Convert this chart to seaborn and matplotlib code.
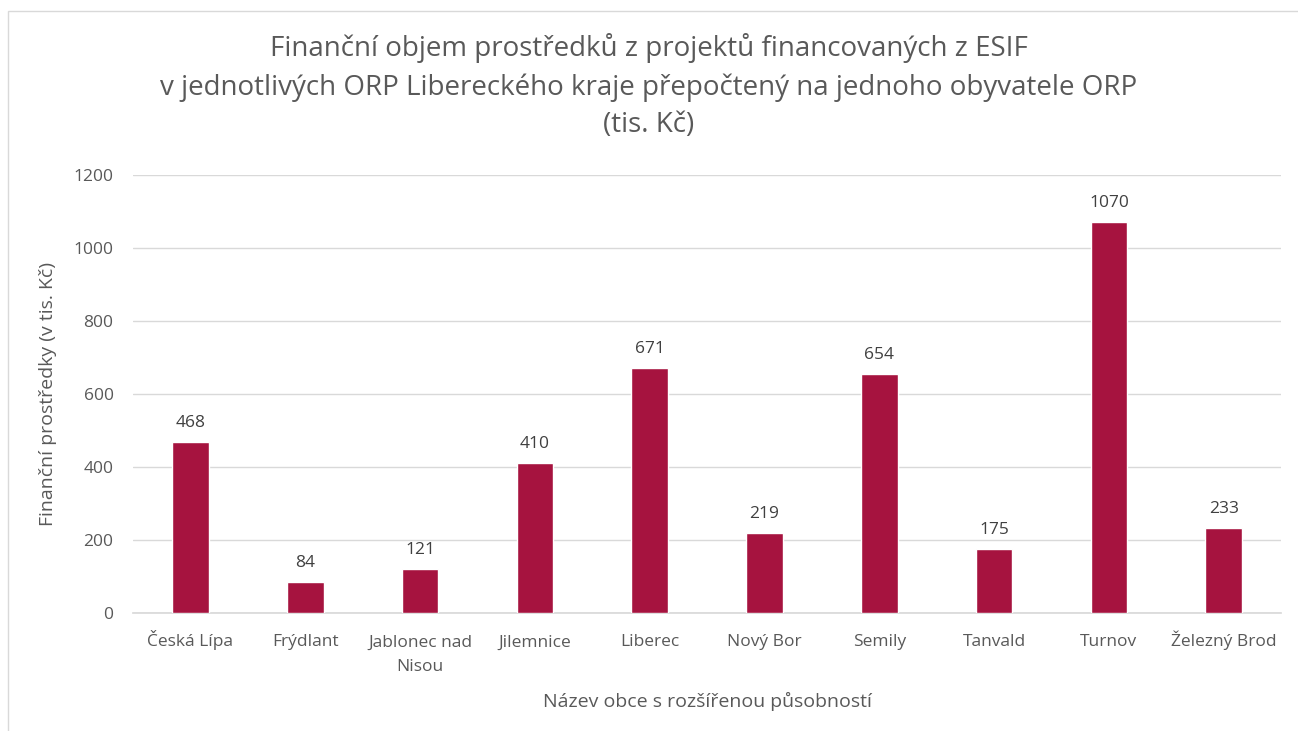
import matplotlib
matplotlib.use("Agg")
import matplotlib.pyplot as plt
import matplotlib.transforms as mtransforms
import seaborn as sns
import pandas as pd
from matplotlib.patches import Rectangle

# ---------------------------------------------------------------------------
# Data
# ---------------------------------------------------------------------------
orp = ["Česká Lípa", "Frýdlant", "Jablonec nad\nNisou", "Jilemnice", "Liberec",
       "Nový Bor", "Semily", "Tanvald", "Turnov", "Železný Brod"]
values = [468, 84, 121, 410, 671, 219, 654, 175, 1070, 233]
yticks = [0, 200, 400, 600, 800, 1000, 1200]

title = ("Finanční objem prostředků z projektů financovaných z ESIF\n"
         "v jednotlivých ORP Libereckého kraje přepočtený na jednoho obyvatele ORP\n"
         "(tis. Kč)")
xlabel = "Název obce s rozšířenou působností"
ylabel = "Finanční prostředky (v tis. Kč)"

df = pd.DataFrame({"orp": orp, "value": values})

# ---------------------------------------------------------------------------
# Plot
# ---------------------------------------------------------------------------
sns.set_theme(style="white")
plt.rcParams["font.family"] = ["Open Sans", "DejaVu Sans"]
text_color = "#595959"
bar_color = "#A6133F"

fig = plt.figure(figsize=(12.98, 7.31), dpi=100)
ax = fig.add_axes([0.1025, 0.1614, 0.8845, 0.5992])

sns.barplot(data=df, x="orp", y="value", color=bar_color, width=0.32,
            saturation=1, ax=ax, zorder=3)

for i, v in enumerate(values):
    ax.annotate(f"{v}", (i, v), xytext=(0, 8), textcoords="offset points",
                ha="center", va="bottom", fontsize=12.5, color="#404040")

ax.set_ylim(0, 1200)
ax.set_yticks(yticks)
ax.set_xlim(-0.5, len(orp) - 0.5)
ax.yaxis.grid(True, color="#D9D9D9", linewidth=1, zorder=0)
for side in ["top", "right", "left"]:
    ax.spines[side].set_visible(False)
ax.spines["bottom"].set_color("#D9D9D9")
ax.tick_params(axis="both", length=0, labelsize=12.5, labelcolor=text_color)
ax.tick_params(axis="x", pad=24)
ax.tick_params(axis="y", pad=14)

# align on the baseline so accented capitals do not push labels down;
# baseline means the last line, so shift multi-line labels down
line_step = 18  # points between lines
for lbl in ax.get_xticklabels():
    lbl.set_linespacing(1.7)
    lbl.set_va("baseline")
    n_extra = lbl.get_text().count("\n")
    if n_extra:
        shift = mtransforms.ScaledTranslation(0, -n_extra * line_step / 72,
                                              fig.dpi_scale_trans)
        lbl.set_transform(lbl.get_transform() + shift)

ax.set_xlabel(xlabel, fontsize=14, color=text_color, labelpad=12)
ax.set_ylabel(ylabel, fontsize=14, color=text_color, labelpad=12)

fig.text(0.5, 0.955, title, ha="center", va="top", fontsize=20,
         color=text_color, linespacing=1.47)

# outer chart border
fig.patches.append(Rectangle((8 / 1298, -0.1), 1.2, 1 - 11 / 731 + 0.1,
                             transform=fig.transFigure, fill=False,
                             edgecolor="#D9D9D9", linewidth=1))

fig.savefig("out.png", dpi=100)
